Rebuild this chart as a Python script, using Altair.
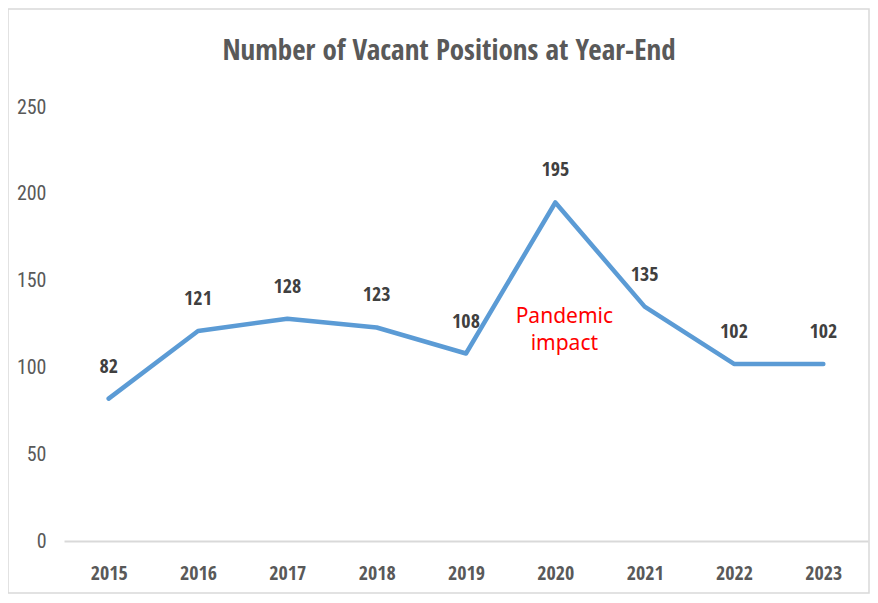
import altair as alt
import pandas as pd

years = ["2015", "2016", "2017", "2018", "2019", "2020", "2021", "2022", "2023"]
vacancies = [82, 121, 128, 123, 108, 195, 135, 102, 102]
y_ticks = [0, 50, 100, 150, 200, 250]
note_year = ["2020"]
note_value = [129]
note_text = ["Pandemic\nimpact"]
title_text = ["Number of Vacant Positions at Year-End"]

df = pd.DataFrame({"year": years, "vacancies": vacancies})
note = pd.DataFrame({"year": note_year, "vacancies": note_value, "t": note_text})
tdf = pd.DataFrame({"t": title_text})

COND = "Open Sans Condensed, Roboto Condensed, sans-serif"

x = alt.X(
    "year:O",
    scale=alt.Scale(type="point", padding=0.5),
    axis=alt.Axis(
        title=None, labelAngle=0, ticks=False, domainColor="#D9D9D9", domainWidth=2,
        labelFont=COND, labelFontSize=20, labelFontWeight="bold", labelColor="#595959",
        labelPadding=22,
    ),
)
y = alt.Y(
    "vacancies:Q",
    scale=alt.Scale(domain=[0, 250], nice=False),
    axis=alt.Axis(
        title=None, values=y_ticks, grid=False, domain=False, ticks=False,
        labelFont="Roboto Condensed", labelFontSize=20, labelFontWeight="normal",
        labelColor="#595959", labelPadding=18,
    ),
)

base = alt.Chart(df).encode(x=x, y=y)

line = base.mark_line(color="#5B9BD5", strokeWidth=4.5, strokeCap="round", strokeJoin="round")
labels = base.mark_text(
    dy=-32, font=COND, fontSize=20, fontWeight="bold", color="#404040", baseline="middle"
).encode(text="vacancies:Q")

annot = alt.Chart(note).mark_text(
    font="Noto Sans", fontSize=21, color="#FF0000", lineBreak="\n", lineHeight=27,
    dx=9, baseline="middle", align="center",
).encode(x=alt.X("year:O"), y=alt.Y("vacancies:Q"), text="t:N")

title = alt.Chart(tdf).mark_text(
    font=COND, fontSize=29, fontWeight="bold", color="#595959", align="center",
    baseline="alphabetic",
).encode(x=alt.value(385), y=alt.value(-47), text="t:N")

frame = alt.Chart(tdf).mark_rect(fill=None, stroke="#D9D9D9", strokeWidth=1.5).encode(
    x=alt.value(-56), x2=alt.value(805), y=alt.value(-98), y2=alt.value(486)
)

chart = alt.layer(frame, title, line, labels, annot).properties(
    width=804,
    height=434,
    background="white",
    autosize=alt.AutoSizeParams(type="none"),
    padding={"left": 56, "top": 99, "right": 2, "bottom": 54},
).configure_view(strokeWidth=0, stroke=None)

chart.save("out.html", embed_options={"renderer": "svg", "actions": False})
